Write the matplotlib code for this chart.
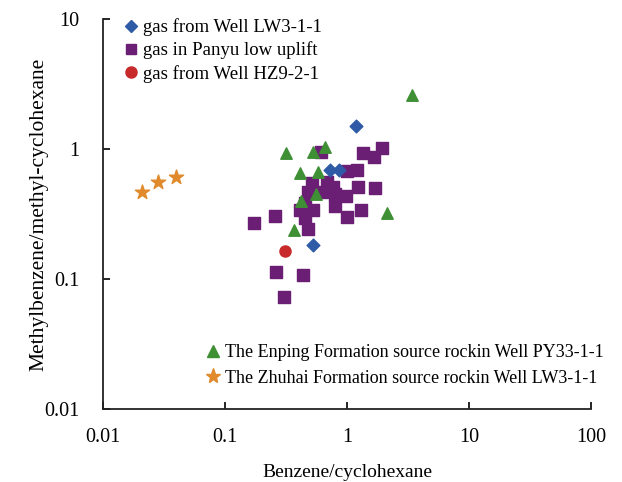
import matplotlib
matplotlib.use("Agg")
import matplotlib.pyplot as plt
from matplotlib.lines import Line2D
from matplotlib.ticker import FixedLocator, FuncFormatter

plt.rcParams['font.family'] = ['Liberation Serif', 'DejaVu Serif']

# gas from Well LW3-1-1
lw_x = [1.19, 0.73, 0.86, 0.53]
lw_y = [1.50, 0.69, 0.69, 0.183]

# gas in Panyu low uplift
py_x = [0.61, 1.36, 1.92, 1.66, 1.00, 1.20, 0.514, 0.682, 0.773, 1.24,
        1.70, 0.482, 0.621, 0.797, 0.982, 0.412, 0.53, 0.797, 1.29, 0.995,
        0.257, 0.453, 0.482, 0.453, 0.173, 0.262, 0.438, 0.305]
py_y = [0.953, 0.927, 1.01, 0.863, 0.678, 0.69, 0.545, 0.56, 0.513, 0.513,
        0.503, 0.47, 0.47, 0.449, 0.435, 0.34, 0.34, 0.365, 0.34, 0.301,
        0.305, 0.293, 0.241, 0.384, 0.268, 0.113, 0.107, 0.0723]

# gas from Well HZ9-2-1
hz_x = [0.31]
hz_y = [0.165]

# Enping Formation source rock, Well PY33-1-1
ep_x = [3.39, 0.316, 0.53, 0.66, 0.412, 0.575, 0.554, 0.42, 0.368, 2.14]
ep_y = [2.60, 0.927, 0.94, 1.04, 0.658, 0.668, 0.449, 0.398, 0.238, 0.32]

# Zhuhai Formation source rock, Well LW3-1-1
zh_x = [0.021, 0.028, 0.040]
zh_y = [0.47, 0.56, 0.61]

blue = '#2F5AA6'
purple = '#6A1F74'
red = '#C8292B'
green = '#3F8F35'
orange = '#E08A2C'

fig = plt.figure(figsize=(6.22, 4.82), dpi=100)
ax = fig.add_axes([0.1656, 0.1515, 0.7846, 0.8091])

ax.scatter(py_x, py_y, marker='s', s=64, color=purple, zorder=3)
ax.scatter(ep_x, ep_y, marker='^', s=68, color=green, zorder=4)
ax.scatter(lw_x, lw_y, marker='D', s=42, color=blue, zorder=5)
ax.scatter(hz_x, hz_y, marker='o', s=64, color=red, zorder=5)
ax.scatter(zh_x, zh_y, marker='*', s=115, color=orange, zorder=5)

ax.set_xscale('log')
ax.set_yscale('log')
ax.set_xlim(0.01, 100)
ax.set_ylim(0.01, 10)
decades_x = [0.01, 0.1, 1, 10, 100]
decades_y = [0.01, 0.1, 1, 10]
ax.xaxis.set_major_locator(FixedLocator(decades_x))
ax.yaxis.set_major_locator(FixedLocator(decades_y))
ax.xaxis.set_minor_locator(FixedLocator([]))
ax.yaxis.set_minor_locator(FixedLocator([]))
fmt = FuncFormatter(lambda v, p: '%g' % v)
ax.xaxis.set_major_formatter(fmt)
ax.yaxis.set_major_formatter(fmt)
ax.tick_params(direction='in', length=5, width=1.2, labelsize=14.5)
ax.tick_params(axis='x', pad=14)
ax.tick_params(axis='y', pad=17)

for side in ['top', 'right']:
    ax.spines[side].set_visible(False)
for side in ['left', 'bottom']:
    ax.spines[side].set_linewidth(1.3)
    ax.spines[side].set_color('#222222')

ax.set_xlabel('Benzene/cyclohexane', fontsize=14, labelpad=12)
ax.set_ylabel('Methylbenzene/methyl-cyclohexane', fontsize=15.5, labelpad=-3)

h1 = [Line2D([], [], ls='', marker='D', ms=6, color=blue),
      Line2D([], [], ls='', marker='s', ms=7, color=purple),
      Line2D([], [], ls='', marker='o', ms=8, color=red)]
leg1 = ax.legend(h1, ['gas from Well LW3-1-1', 'gas in Panyu low uplift',
                      'gas from Well HZ9-2-1'],
                 loc='upper left', bbox_to_anchor=(0.018, 1.035), frameon=False,
                 fontsize=13.5, handlelength=0.6, handletextpad=0.35,
                 labelspacing=0.28, borderpad=0.2)
ax.add_artist(leg1)

h2 = [Line2D([], [], ls='', marker='^', ms=8, color=green),
      Line2D([], [], ls='', marker='*', ms=11, color=orange)]
ax.legend(h2, ['The Enping Formation source rockin Well PY33-1-1',
               'The Zhuhai Formation source rockin Well LW3-1-1'],
          loc='lower left', bbox_to_anchor=(0.188, 0.025), frameon=False,
          fontsize=13, handlelength=0.6, handletextpad=0.4,
          labelspacing=0.45, borderpad=0.2)

fig.savefig('out.png', dpi=100)
